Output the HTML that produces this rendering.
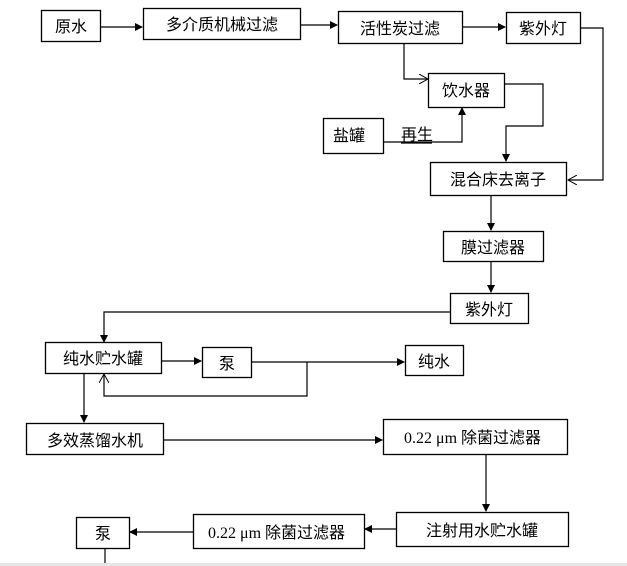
<!DOCTYPE html>
<html><head><meta charset="utf-8"><style>
html,body{margin:0;padding:0;background:#fff;}
svg{display:block;}
text{font-family:"Liberation Sans","Noto Sans CJK SC",sans-serif;font-size:16px;fill:#000;}
.b{fill:#fff;stroke:#000;stroke-width:1.3;}
.l{fill:none;stroke:#000;stroke-width:1.2;}
</style></head><body>
<svg width="627" height="566" viewBox="0 0 627 566" xmlns="http://www.w3.org/2000/svg">
<defs>
<marker id="a" markerWidth="8" markerHeight="8" refX="7" refY="4" orient="auto" markerUnits="userSpaceOnUse"><path d="M0,0 L8,4 L0,8 z" fill="#000"/></marker>
<marker id="o" markerWidth="10" markerHeight="10" refX="9" refY="5" orient="auto" markerUnits="userSpaceOnUse"><path d="M0,0 L9,5 L0,10" fill="none" stroke="#000" stroke-width="1"/></marker>
</defs>
<rect class="b" x="41.5" y="10.5" width="59" height="31"/><text x="71" y="32" text-anchor="middle">原水</text>
<rect class="b" x="143.5" y="8.5" width="157" height="31"/><text x="222" y="30" text-anchor="middle">多介质机械过滤</text>
<rect class="b" x="338.5" y="11.5" width="124" height="32"/><text x="400" y="34" text-anchor="middle">活性炭过滤</text>
<rect class="b" x="506.5" y="12.5" width="74" height="31"/><text x="543" y="34" text-anchor="middle">紫外灯</text>
<rect class="b" x="428.5" y="73.5" width="76" height="34"/><text x="466" y="96" text-anchor="middle">饮水器</text>
<rect class="b" x="323.5" y="118.5" width="60" height="35"/><text x="349" y="141" text-anchor="middle">盐罐</text>
<text x="401" y="140">再生</text>
<rect class="b" x="430.5" y="162.5" width="136" height="33"/><text x="498" y="185" text-anchor="middle">混合床去离子</text>
<rect class="b" x="443.5" y="231.5" width="100" height="30"/><text x="493" y="253" text-anchor="middle">膜过滤器</text>
<rect class="b" x="450.5" y="293.5" width="78" height="30"/><text x="489" y="315" text-anchor="middle">紫外灯</text>
<rect class="b" x="45.5" y="342.5" width="116" height="31"/><text x="103" y="364" text-anchor="middle">纯水贮水罐</text>
<rect class="b" x="202.5" y="347.5" width="49" height="30"/><text x="227" y="369" text-anchor="middle">泵</text>
<rect class="b" x="405.5" y="345.5" width="58" height="30"/><text x="434" y="367" text-anchor="middle">纯水</text>
<rect class="b" x="26.5" y="423.5" width="137" height="31"/><text x="95" y="446" text-anchor="middle">多效蒸馏水机</text>
<rect class="b" x="383.5" y="419.5" width="184" height="35"/><text x="404" y="443"><tspan font-family="Liberation Serif,serif">0.22 μm </tspan>除菌过滤器</text>
<rect class="b" x="396.5" y="512.5" width="172" height="34"/><text x="482" y="536" text-anchor="middle">注射用水贮水罐</text>
<rect class="b" x="193.5" y="514.5" width="171" height="34"/><text x="208" y="538"><tspan font-family="Liberation Serif,serif">0.22 μm </tspan>除菌过滤器</text>
<rect class="b" x="76.5" y="517.5" width="53" height="31"/><text x="103" y="539" text-anchor="middle">泵</text>
<path class="l" d="M100,27 H142" marker-end="url(#a)"/>
<path class="l" d="M300,25 H337" marker-end="url(#a)"/>
<path class="l" d="M462,27 H505" marker-end="url(#a)"/>
<path class="l" d="M580,28 H603 V180 H568" marker-end="url(#o)"/>
<path class="l" d="M404,43 V79 H428" marker-end="url(#o)"/>
<path class="l" d="M504,84 H543 V126 H506 V161" marker-end="url(#a)"/>
<path class="l" d="M383,142 H462 V108" marker-end="url(#a)"/>
<path class="l" d="M401,143 H432"/>
<path class="l" d="M491,195 V230" marker-end="url(#a)"/>
<path class="l" d="M491,261 V292" marker-end="url(#a)"/>
<path class="l" d="M450,312 H104 V342" marker-end="url(#a)"/>
<path class="l" d="M161,361 H201" marker-end="url(#a)"/>
<path class="l" d="M251,362 H404" marker-end="url(#a)"/>
<path class="l" d="M307,362 V396 H104 V374" marker-end="url(#o)"/>
<path class="l" d="M84,373 V422" marker-end="url(#a)"/>
<path class="l" d="M163,440 H382" marker-end="url(#a)"/>
<path class="l" d="M486,454 V511" marker-end="url(#a)"/>
<path class="l" d="M396,529 H365" marker-end="url(#a)"/>
<path class="l" d="M193,532 H130" marker-end="url(#a)"/>
<path class="l" d="M105,548 V566"/>
<rect x="0" y="563" width="627" height="3" fill="#e6e6e6"/>
</svg>
</body></html>
